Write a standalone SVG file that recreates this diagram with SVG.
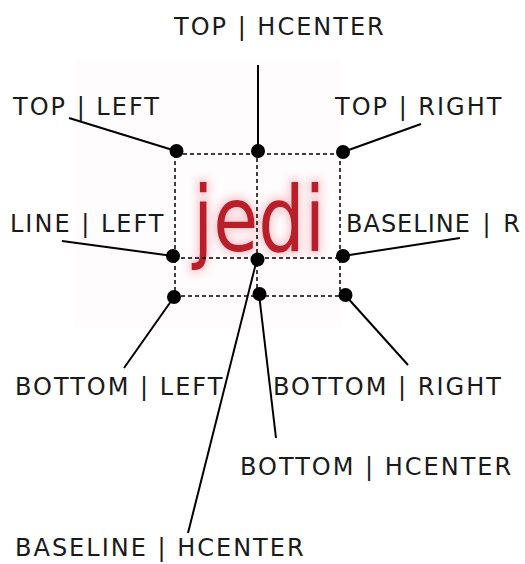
<svg xmlns="http://www.w3.org/2000/svg" width="525" height="564" viewBox="0 0 525 564">
<style>
.lbl{font-family:"DejaVu Sans",Verdana,sans-serif;font-size:24px;letter-spacing:2px;fill:#1a1a1a}
.con{stroke:#000;stroke-width:2;fill:none}
.box{stroke:#000;stroke-width:1.5;stroke-dasharray:4 3;fill:none}
.dot{fill:#000}
.jedi{font-family:"DejaVu Sans",sans-serif;font-size:91px}
</style>
<defs>
<filter id="blur" x="-20%" y="-20%" width="140%" height="140%"><feGaussianBlur stdDeviation="4"/></filter>
</defs>
<rect width="525" height="564" fill="#fff"/>
<rect x="74" y="60" width="268" height="268" fill="#fefcfd"/>
<g id="jedi-text">
<text class="jedi" x="193" y="251" textLength="132" lengthAdjust="spacingAndGlyphs" fill="#f7b8c0" stroke="#f7b8c0" stroke-width="6" filter="url(#blur)" opacity="0.8">jedi</text>
<text class="jedi" x="193" y="251" textLength="132" lengthAdjust="spacingAndGlyphs" fill="#b81f28">jedi</text>
</g>
<g id="box">
<line class="box" x1="176" y1="154" x2="342" y2="154"/>
<line class="box" x1="174" y1="258" x2="343" y2="258"/>
<line class="box" x1="174" y1="296" x2="345" y2="296"/>
<line class="box" x1="175" y1="154" x2="175" y2="296"/>
<line class="box" x1="257" y1="151" x2="257" y2="294"/>
<line class="box" x1="340" y1="154" x2="340" y2="296"/>
</g>
<g id="connectors">
<line class="con" x1="258" y1="65" x2="258" y2="151"/>
<line class="con" x1="69" y1="118" x2="176" y2="151"/>
<line class="con" x1="421" y1="124" x2="343" y2="152"/>
<line class="con" x1="62" y1="241" x2="173" y2="256"/>
<line class="con" x1="460" y1="238" x2="343" y2="256"/>
<line class="con" x1="174" y1="297" x2="124" y2="368"/>
<line class="con" x1="345" y1="295" x2="408" y2="365"/>
<line class="con" x1="259" y1="294" x2="276" y2="438"/>
<line class="con" x1="257" y1="259" x2="188" y2="533"/>
</g>
<g id="dots">
<circle class="dot" cx="176.5" cy="151" r="7"/>
<circle class="dot" cx="258" cy="151" r="7"/>
<circle class="dot" cx="343" cy="152" r="7"/>
<circle class="dot" cx="173" cy="256" r="7"/>
<circle class="dot" cx="257.5" cy="259.5" r="7"/>
<circle class="dot" cx="343" cy="256" r="7"/>
<circle class="dot" cx="174" cy="297" r="7"/>
<circle class="dot" cx="259.5" cy="294" r="7"/>
<circle class="dot" cx="345.5" cy="295" r="7"/>
</g>
<g id="n-top-hcenter"><text class="lbl" x="174" y="35">TOP | HCENTER</text></g>
<g id="n-top-left"><text class="lbl" x="13" y="115">TOP | LEFT</text></g>
<g id="n-top-right"><text class="lbl" x="335" y="115">TOP | RIGHT</text></g>
<g id="n-baseline-left"><text class="lbl" x="10" y="232">LINE | LEFT</text></g>
<g id="n-baseline-right"><text class="lbl" x="346" y="232" style="letter-spacing:1px;word-spacing:3px">BASELINE | R</text></g>
<g id="n-bottom-left"><text class="lbl" x="15" y="395">BOTTOM | LEFT</text></g>
<g id="n-bottom-right"><text class="lbl" x="273" y="395">BOTTOM | RIGHT</text></g>
<g id="n-bottom-hcenter"><text class="lbl" x="240" y="475">BOTTOM | HCENTER</text></g>
<g id="n-baseline-hcenter"><text class="lbl" x="15" y="556">BASELINE | HCENTER</text></g>
</svg>
